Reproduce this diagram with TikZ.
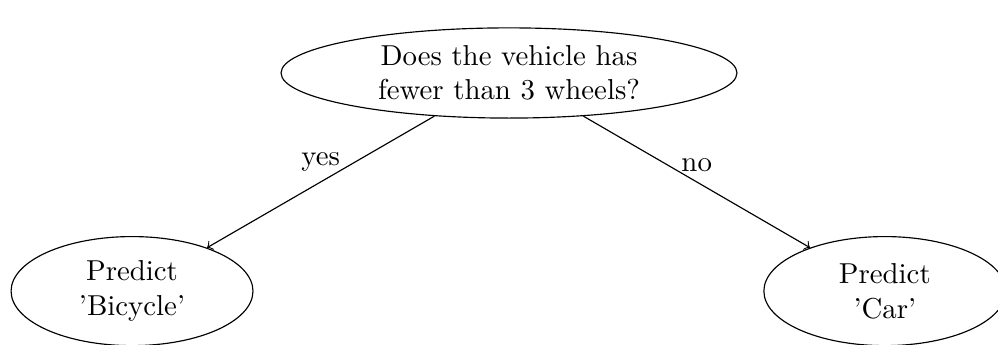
\documentclass[tikz,border=0pt]{standalone}
\usetikzlibrary{shapes.geometric}
\usetikzlibrary{positioning}

\begin{document}
\begin{tikzpicture}[question/.style={ellipse, draw, align=center, inner sep=0pt, minimum width=5.56cm, minimum height=1.10cm},
    leaf/.style={ellipse, draw, align=center, inner sep=0pt, minimum width=2.95cm, minimum height=1.33cm}]
        \useasboundingbox (0,0) rectangle (12.17,-4.207);
        \node [question] (wheels) at (6.207,-0.89) {Does the vehicle has\\fewer than 3 wheels?};
        \node [leaf] (bicycle) at (1.61,-3.55) {Predict\\'Bicycle'};
        \node [leaf] (car) at (10.79,-3.55) {Predict\\'Car'};
        \draw [->] (wheels) -- (bicycle) node [midway, above] {yes};
        \draw [->] (wheels) -- (car) node [midway, above] {no};
      \end{tikzpicture}
\end{document}
